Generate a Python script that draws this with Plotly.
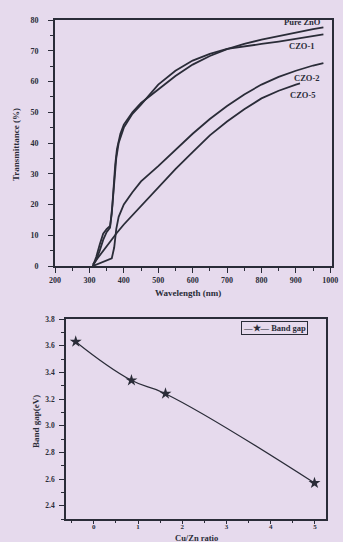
import plotly.graph_objects as go

# ---- Top chart data: transmittance spectra ----
wl_pure = [310, 320, 330, 340, 350, 360, 365, 370, 375, 380, 390, 400, 425, 450, 500, 550, 600, 650, 700, 750, 800, 850, 900, 950, 980]
t_pure = [0, 3, 7, 10.5, 12, 13, 17, 26, 33, 38, 43, 46, 50, 53, 57.5, 61.8, 65.5, 68.3, 70.5, 72.2, 73.6, 74.8, 76, 77, 77.6]

wl_czo1 = [310, 320, 330, 340, 350, 360, 367, 372, 378, 385, 400, 425, 450, 500, 550, 600, 650, 700, 750, 800, 850, 900, 950, 980]
t_czo1 = [0, 2, 5, 8.5, 11, 12.5, 20, 28, 35, 40, 45, 49.5, 52.5, 59, 63.5, 66.8, 69, 70.6, 71.5, 72.2, 73, 73.8, 74.8, 75.3]

wl_czo2 = [310, 330, 350, 365, 372, 378, 385, 400, 425, 450, 500, 550, 600, 650, 700, 750, 800, 850, 900, 950, 980]
t_czo2 = [0, 1, 1.8, 2.5, 6, 12, 16, 20, 24, 27.5, 32.5, 37.8, 43, 47.8, 52, 55.8, 59, 61.5, 63.5, 65.2, 66]

wl_czo5 = [310, 320, 340, 360, 380, 400, 450, 500, 550, 600, 650, 700, 750, 800, 850, 900, 912]
t_czo5 = [0.5, 2, 5, 8, 10.8, 13.5, 19.5, 25.5, 31.5, 37, 42.5, 47, 51, 54.5, 57, 59, 59.4]

labels_top = ["Pure ZnO", "CZO-1", "CZO-2", "CZO-5"]
label_x = [918, 918, 932, 921]
label_y = [79.5, 71.7, 61.1, 55.6]

# ---- Bottom chart data: band gap ----
ratio = [-0.41, 0.85, 1.62, 4.99]
band_gap = [3.63, 3.34, 3.24, 2.57]
legend_label = "—★— Band gap"

BG = "#e6daed"
INK = "#2a2c38"
FONT = "Liberation Serif"

fig = go.Figure()

for wl, t in [(wl_pure, t_pure), (wl_czo1, t_czo1), (wl_czo2, t_czo2), (wl_czo5, t_czo5)]:
    fig.add_trace(go.Scatter(x=wl, y=t, mode="lines", line=dict(color=INK, width=1.8),
                             showlegend=False, xaxis="x", yaxis="y"))

fig.add_trace(go.Scatter(x=ratio, y=band_gap, mode="lines+markers", name="Band gap",
                         line=dict(color=INK, width=1.2, shape="spline", smoothing=1.3),
                         marker=dict(symbol="star", size=9, color=INK),
                         showlegend=False, xaxis="x2", yaxis="y2"))

tickfont = dict(family=FONT, size=8, color=INK, weight="bold")
common = dict(showline=True, linecolor=INK, linewidth=1.6, mirror=True, ticks="outside",
              tickcolor=INK, tickwidth=1.2, showgrid=False, zeroline=False,
              automargin=False)

fig.update_layout(
    template="none",
    width=343, height=542,
    margin=dict(l=0, r=0, t=0, b=0, pad=0),
    paper_bgcolor=BG, plot_bgcolor=BG,
    showlegend=False,
    xaxis=dict(domain=[55 / 343, 332 / 343], range=[200, 1005], anchor="y",
               tickvals=[200, 300, 400, 500, 600, 700, 800, 900, 1000], ticklen=5,
               ticklabelstandoff=1, tickfont=tickfont,
               minor=dict(ticks="outside", ticklen=3, dtick=50, tickcolor=INK), **common),
    yaxis=dict(domain=[1 - 266 / 542, 1 - 20 / 542], range=[0, 80], anchor="x", dtick=10,
               ticklen=5, ticklabelstandoff=8, tickfont=tickfont,
               minor=dict(ticks="outside", ticklen=3, dtick=5, tickcolor=INK), **common),
    xaxis2=dict(domain=[66 / 343, 326 / 343], range=[-0.63, 5.25], anchor="y2", dtick=1,
                ticklen=3, ticklabelstandoff=-3,
                tickfont=dict(family=FONT, size=7, color=INK, weight="bold"),
                minor=dict(ticks="outside", ticklen=2, dtick=0.5, tickcolor=INK), **common),
    yaxis2=dict(domain=[1 - 519 / 542, 1 - 319 / 542], range=[2.3, 3.8], anchor="x2", dtick=0.2,
                tickformat=".1f", ticklen=5, ticklabelstandoff=3,
                tickfont=dict(family=FONT, size=7.5, color=INK, weight="bold"),
                minor=dict(ticks="outside", ticklen=3, dtick=0.1, tickcolor=INK), **common),
)

for txt, lx, ly in zip(labels_top, label_x, label_y):
    fig.add_annotation(x=lx, y=ly, xref="x", yref="y", text=txt, showarrow=False,
                       xanchor="center", yanchor="middle",
                       font=dict(family=FONT, size=8.5, color=INK, weight="bold"))

# legend box drawn as a bordered text label
fig.add_annotation(x=274 / 343, y=1 - 328 / 542, xref="paper", yref="paper", text=legend_label,
                   showarrow=False, xanchor="center", yanchor="middle",
                   bordercolor=INK, borderwidth=1, borderpad=1, bgcolor=BG,
                   font=dict(family=FONT, size=8.5, color=INK, weight="bold"))

titles = [
    ("Transmittance (%)", 16, 145, -90, 9),
    ("Wavelength (nm)", 188, 293, 0, 9),
    ("Band gap(eV)", 36, 422, -90, 9),
    ("Cu/Zn ratio", 197, 537.5, 0, 8.5),
]
for txt, px, py, ang, fs in titles:
    fig.add_annotation(x=px / 343, y=1 - py / 542, xref="paper", yref="paper", text=txt,
                       textangle=ang, showarrow=False, xanchor="center", yanchor="middle",
                       font=dict(family=FONT, size=fs, color=INK, weight="bold"))

fig.write_html("out.html", config={"displayModeBar": False},
               post_script="document.body.style.margin='0';document.body.style.overflow='hidden';")
